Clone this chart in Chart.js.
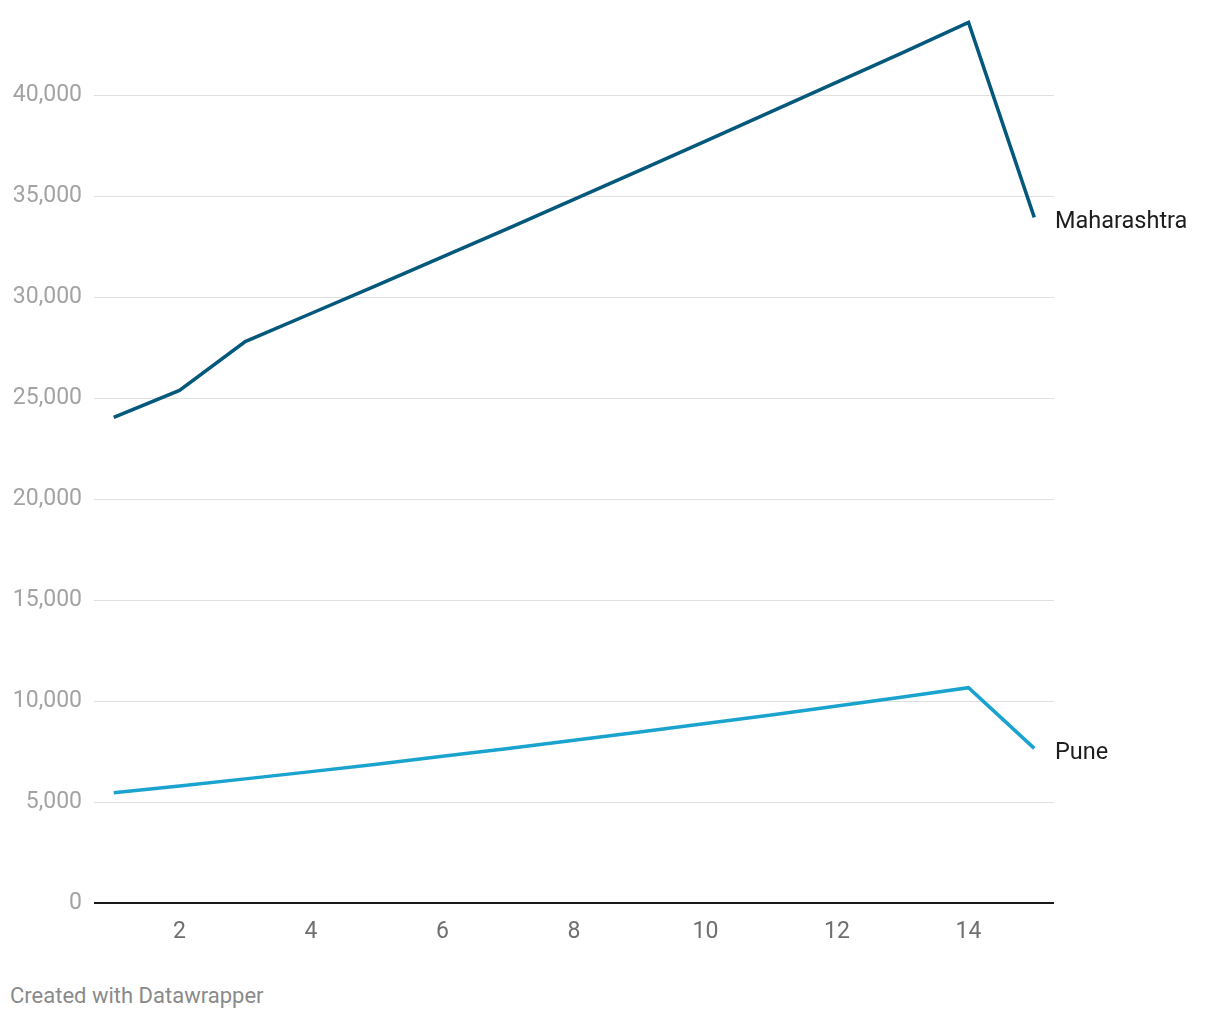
<!DOCTYPE html>
<html>
<head>
<meta charset="utf-8">
<script src="https://cdn.jsdelivr.net/npm/chart.js@4"></script>
<style>
  html, body { margin: 0; padding: 0; background: #fff; }
  #wrap { position: relative; width: 1220px; height: 1020px; }
  #footer { position: absolute; left: 10px; top: 983px; font-family: Roboto, sans-serif; font-size: 22px; color: #8a8a8a; }
</style>
</head>
<body>
<div id="wrap">
  <canvas id="c" width="1220" height="960"></canvas>
  <div id="footer">Created with Datawrapper</div>
</div>
<script>
const categories = [1, 2, 3, 4, 5, 6, 7, 8, 9, 10, 11, 12, 13, 14, 15];
const maharashtra = [24060, 25400, 27820, 29210, 30600, 32010, 33430, 34860, 36300, 37750, 39210, 40670, 42140, 43630, 33970];
const pune = [5460, 5800, 6150, 6510, 6880, 7270, 7660, 8060, 8470, 8890, 9320, 9760, 10210, 10670, 7660];
const xTicks = [2, 4, 6, 8, 10, 12, 14];
const yTicks = [0, 5000, 10000, 15000, 20000, 25000, 30000, 35000, 40000];
const seriesNames = ['Maharashtra', 'Pune'];
const seriesColors = ['#03587c', '#1aa3cf'];

const toXY = arr => arr.map((v, i) => ({ x: categories[i], y: v }));

const endLabels = {
  id: 'endLabels',
  afterDatasetsDraw(chart) {
    const { ctx, scales: { y } } = chart;
    ctx.save();
    ctx.font = '23.5px Roboto';
    ctx.fillStyle = '#1d1d1d';
    ctx.textAlign = 'left';
    ctx.textBaseline = 'middle';
    chart.data.datasets.forEach(ds => {
      const last = ds.data[ds.data.length - 1];
      ctx.fillText(ds.label, chart.chartArea.right + 1, y.getPixelForValue(last.y) + 5);
    });
    ctx.restore();
  }
};

new Chart(document.getElementById('c'), {
  type: 'line',
  data: {
    datasets: [
      { label: seriesNames[0], data: toXY(maharashtra), borderColor: seriesColors[0], borderWidth: 3.5, pointRadius: 0, tension: 0, clip: false },
      { label: seriesNames[1], data: toXY(pune), borderColor: seriesColors[1], borderWidth: 3.5, pointRadius: 0, tension: 0, clip: false }
    ]
  },
  options: {
    responsive: false,
    animation: false,
    events: [],
    layout: { padding: { left: 0, right: 166, top: 15, bottom: 0 } },
    plugins: { legend: { display: false }, tooltip: { enabled: false } },
    scales: {
      x: {
        type: 'linear',
        min: 0.7,
        max: 15.3,
        afterBuildTicks: axis => { axis.ticks = xTicks.map(v => ({ value: v })); },
        afterFit: axis => { axis.height = 57; axis.paddingLeft = 0; axis.paddingRight = 0; },
        grid: { display: false, drawTicks: false },
        border: { display: false },
        ticks: { font: { family: 'Roboto', size: 23 }, color: '#6f6f6f', padding: 15, maxRotation: 0 }
      },
      y: {
        min: 0,
        max: 44000,
        afterBuildTicks: axis => { axis.ticks = yTicks.map(v => ({ value: v })); },
        afterFit: axis => { axis.width = 94; axis.paddingTop = 0; axis.paddingBottom = 0; },
        grid: {
          drawTicks: false,
          color: ctx => ctx.tick && ctx.tick.value === 0 ? '#1a1a1a' : '#e0e0e0',
          lineWidth: ctx => ctx.tick && ctx.tick.value === 0 ? 2 : 1
        },
        border: { display: false },
        ticks: {
          font: { family: 'Roboto', size: 23 },
          color: '#a3a3a3',
          padding: 12,
          callback: v => v.toLocaleString('en-US')
        }
      }
    }
  },
  plugins: [endLabels]
});
</script>
</body>
</html>
